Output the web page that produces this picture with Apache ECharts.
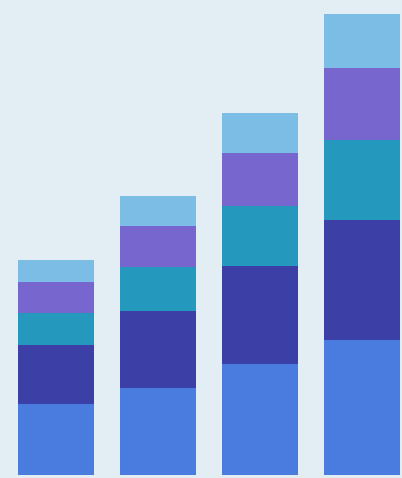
<!DOCTYPE html>
<html><head><meta charset="utf-8">
<script src="https://cdn.jsdelivr.net/npm/echarts@6/dist/echarts.min.js"></script>
<style>html,body{margin:0;padding:0;background:#e2eef3;}#c{width:402px;height:478px;}</style>
</head><body><div id="c"></div>
<script>
var categories = ['A', 'B', 'C', 'D'];
var seriesNames = ['S1', 'S2', 'S3', 'S4', 'S5'];
var s1 = [71, 87, 111, 135];
var s2 = [59, 77, 98, 120];
var s3 = [32, 44, 60, 80];
var s4 = [31, 41, 53, 72];
var s5 = [22, 30, 40, 54];
var colors = ['#4a7ce0', '#3c3fa5', '#2498bd', '#7866cf', '#7cbde6'];
var values = [s1, s2, s3, s4, s5];
var chart = echarts.init(document.getElementById('c'));
chart.setOption({
  backgroundColor: '#e2eef3',
  animation: false,
  grid: {left: 5, top: 0, width: 408, bottom: 3, outerBoundsMode: 'none', containLabel: false},
  xAxis: {type: 'category', data: categories, show: false},
  yAxis: {type: 'value', min: 0, max: 475, show: false},
  series: values.map(function (v, i) {
    return {type: 'bar', name: seriesNames[i], stack: 'total', data: v, barWidth: 76,
      itemStyle: {color: colors[i]}};
  })
});
</script></body></html>
